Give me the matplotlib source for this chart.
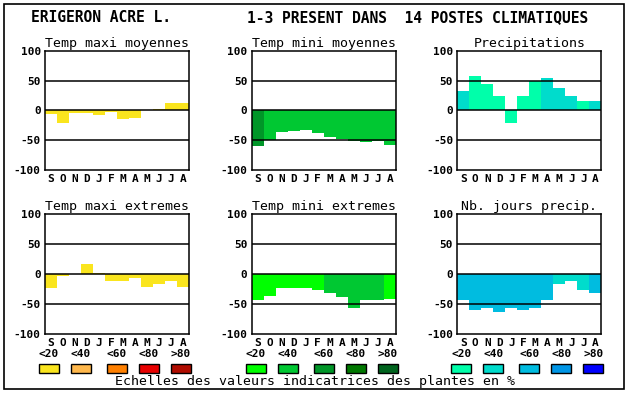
import matplotlib
matplotlib.use("Agg")
import matplotlib.pyplot as plt
from matplotlib.patches import Rectangle

plt.rcParams['font.family'] = ['DejaVu Sans Mono']

months = ["S", "O", "N", "D", "J", "F", "M", "A", "M", "J", "J", "A"]
scale_labels = ["<20", "<40", "<60", "<80", ">80"]

# colour scales (one per column)
temp_max_colors = ["#fae51e", "#ffb84c", "#ff8000", "#e80000", "#b00c00"]
temp_min_colors = ["#00ff00", "#00c832", "#009628", "#007800", "#00641e"]
precip_colors = ["#00ffaa", "#00dccc", "#00bce0", "#0096e6", "#0000ff"]

# values per month and colour class index (0 = <20 ... 4 = >80)
tmax_moy = [-6, -21, -4, -4, -8, -3, -15, -12, 0, 2, 12, 12]
tmax_moy_cls = [0, 0, 0, 0, 0, 0, 0, 0, 0, 0, 0, 0]

tmin_moy = [-59, -50, -36, -35, -33, -37, -44, -48, -51, -53, -51, -57]
tmin_moy_cls = [2, 1, 1, 1, 1, 1, 1, 1, 1, 1, 1, 1]

precip = [33, 57, 45, 25, -21, 25, 50, 55, 37, 25, 15, 15]
precip_cls = [1, 0, 0, 0, 0, 0, 0, 1, 1, 1, 0, 1]

tmax_ext = [-24, -4, 0, 17, 2, -12, -12, -6, -21, -16, -11, -22]
tmax_ext_cls = [0, 0, 0, 0, 0, 0, 0, 0, 0, 0, 0, 0]

tmin_ext = [-44, -37, -23, -24, -24, -26, -31, -38, -56, -44, -44, -41]
tmin_ext_cls = [0, 0, 0, 0, 0, 0, 1, 1, 1, 1, 1, 0]

jours_precip = [-44, -61, -56, -64, -56, -61, -56, -44, -16, -12, -27, -32]
jours_precip_cls = [2, 2, 2, 2, 2, 2, 2, 2, 1, 1, 1, 2]

W, H = 630, 394
fig = plt.figure(figsize=(6.3, 3.94), dpi=100)
fig.patch.set_facecolor("white")

# outer frame
fig.add_artist(Rectangle((4 / W, 1 - 389 / H), 620 / W, 385 / H,
                         transform=fig.transFigure, fill=False,
                         edgecolor="black", linewidth=1.2))

fig.text(31 / W, 1 - 18 / H, "ERIGERON ACRE L.", fontsize=10.5,
         fontweight="bold", va="center", ha="left")
fig.text(247 / W, 1 - 18 / H, "1-3 PRESENT DANS  14 POSTES CLIMATIQUES",
         fontsize=10.5, fontweight="bold", va="center", ha="left")

panels = [
    ("Temp maxi moyennes", tmax_moy, tmax_moy_cls, temp_max_colors, 0, 0),
    ("Temp mini moyennes", tmin_moy, tmin_moy_cls, temp_min_colors, 0, 1),
    ("Precipitations", precip, precip_cls, precip_colors, 0, 2),
    ("Temp maxi extremes", tmax_ext, tmax_ext_cls, temp_max_colors, 1, 0),
    ("Temp mini extremes", tmin_ext, tmin_ext_cls, temp_min_colors, 1, 1),
    ("Nb. jours precip.", jours_precip, jours_precip_cls, precip_colors, 1, 2),
]

col_x = [45, 251.7, 457.3]
col_w = 144
row_top = [50.7, 214.3]
row_h = 119.5

for title, vals, cls, pal, r, c in panels:
    ax = fig.add_axes([col_x[c] / W, 1 - (row_top[r] + row_h) / H,
                       col_w / W, row_h / H])
    x = list(range(len(months)))
    ax.bar(x, vals, width=1.0, color=[pal[k] for k in cls],
           edgecolor="none", zorder=1)
    for y in (-50, 0, 50):
        ax.axhline(y, color="black", linewidth=1.1, zorder=3)
    ax.set_xlim(-0.5, 11.5)
    ax.set_ylim(-100, 100)
    ax.set_yticks([-100, -50, 0, 50, 100])
    ax.set_yticklabels(["-100", "-50", "0", "50", "100"],
                       fontsize=8, fontweight="bold")
    ax.set_xticks(x)
    ax.set_xticklabels(months, fontsize=8, fontweight="bold")
    ax.tick_params(length=0, pad=3)
    for s in ax.spines.values():
        s.set_linewidth(1.1)
    ax.set_title(title, fontsize=9.5, pad=3)

# colour scale legends
box_offsets = [-6, 26, 62, 94, 126]
for c, pal in enumerate([temp_max_colors, temp_min_colors, precip_colors]):
    for k, (lab, colr) in enumerate(zip(scale_labels, pal)):
        bx = col_x[c] + box_offsets[k]
        fig.add_artist(Rectangle((bx / W, 1 - 373 / H), 20 / W, 9 / H,
                                 transform=fig.transFigure,
                                 facecolor=colr, edgecolor="black",
                                 linewidth=1.0))
        fig.text((bx + 10) / W, 1 - 354 / H, lab, fontsize=8,
                 fontweight="bold", ha="center", va="center")

fig.text(315 / W, 1 - 382 / H,
         "Echelles des valeurs indicatrices des plantes en %",
         fontsize=9.5, ha="center", va="center")

fig.savefig("out.png", dpi=100)
